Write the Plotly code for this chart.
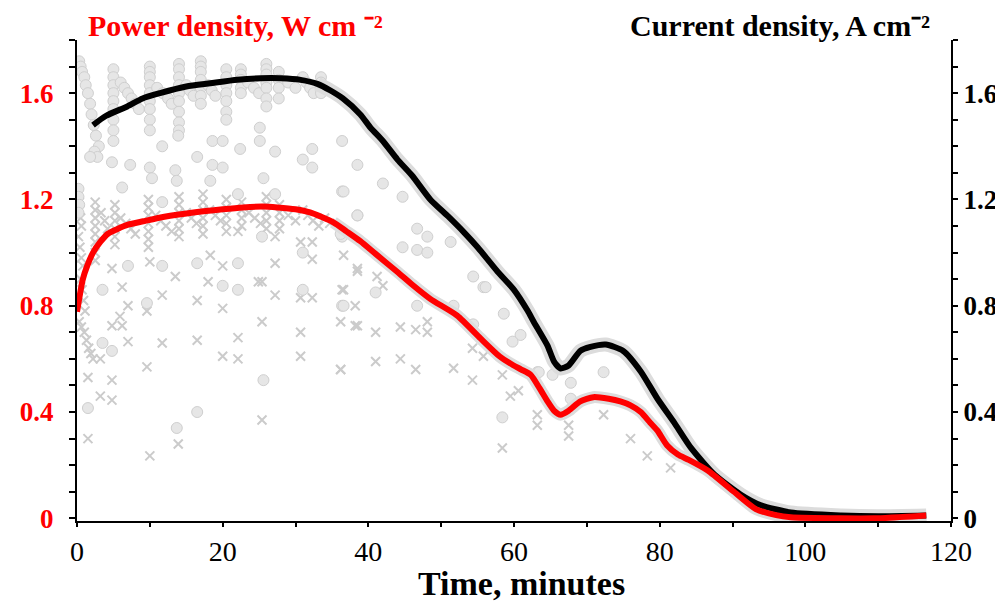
import plotly.graph_objects as go

# ---- smoothed curves ----
cur_line_t = [2.2, 4, 6.9, 9, 11.4, 15, 18.3, 22, 25.2, 28, 30.7, 33, 34.8, 36.5, 38.9, 40.3, 42, 44, 46,
              48.5, 51, 53.1, 55, 57.7, 60, 61.9, 62.7, 64.6, 65.5, 66.4, 67.5, 69.1, 70.5, 72.6, 75, 77.4,
              79.7, 82, 84.3, 87.5, 91.1, 93.9, 98, 104.9, 110, 116.6]
cur_line_j = [1.48, 1.515, 1.55, 1.58, 1.60, 1.625, 1.637, 1.65, 1.656, 1.656, 1.65, 1.635, 1.61, 1.58, 1.52,
              1.47, 1.42, 1.35, 1.29, 1.20, 1.135, 1.077, 1.02, 0.93, 0.86, 0.78, 0.74, 0.65, 0.59, 0.564,
              0.575, 0.63, 0.645, 0.654, 0.63, 0.553, 0.45, 0.36, 0.265, 0.165, 0.09, 0.049, 0.022, 0.011,
              0.008, 0.011]

pow_line_t = [0, 0.8, 1.4, 2.2, 3.2, 4.2, 5.5, 7, 9.1, 12, 16, 20, 22.8, 25.5, 27.5, 30, 32, 35.2, 37, 38.9,
              41, 44, 46, 48.5, 52.2, 55.4, 58, 59.9, 61, 62.3, 63.5, 64.6, 65.5, 66.4, 67.5, 69.1, 70.9, 73,
              74.6, 76, 77.4, 78.7, 79.7, 81, 82.5, 84, 86.6, 90.2, 93.2, 96, 98, 104.9, 109.4, 116.6]
pow_line_p = [0.777, 0.90, 0.95, 1.00, 1.04, 1.07, 1.088, 1.105, 1.118, 1.135, 1.151, 1.163, 1.17, 1.173,
              1.17, 1.163, 1.151, 1.114, 1.08, 1.043, 0.995, 0.927, 0.88, 0.826, 0.763, 0.677, 0.61, 0.576,
              0.56, 0.54, 0.49, 0.44, 0.405, 0.39, 0.405, 0.44, 0.456, 0.45, 0.44, 0.425, 0.40, 0.36, 0.33,
              0.275, 0.24, 0.22, 0.18, 0.10, 0.035, 0.012, 0.004, 0.0, 0.0, 0.011]

# ---- measured current density points (circles) ----
cur_pts_t = [
    0.3, 0.5, 0.7, 1.0, 1.2, 1.5, 1.8, 2.0, 2.3, 2.6, 3.0, 2.4, 2.8,
    5, 5, 5, 5, 5, 5, 5, 5, 5,
    6, 6.5, 7, 7.5, 8, 8.5,
    10, 10, 10, 10, 10, 10, 10, 10, 10,
    11, 11.8, 12.5, 13,
    14, 14, 14, 14, 14, 14, 14, 14, 14,
    15, 15.5, 16,
    17, 17, 17, 17, 17, 17, 17,
    18, 18.5, 19,
    20.5, 20.5, 20.5, 20.5, 20.5, 20.5, 20.5,
    22.5, 22.5, 22.5, 22.5, 22.5,
    23.5, 24.3, 25,
    26, 26, 26, 26, 26, 26, 26,
    27.7, 27.7, 27.7, 27.7,
    29, 30, 31, 31.5, 32, 32.5,
    33.5, 33.5, 33.5, 33.5,
    1.8, 4.8, 7.3, 10, 10.3, 11.7, 13.5, 13.7, 13.9, 16.5, 18.6, 18.3, 18.6, 20, 20, 22.4, 25.1,
    25.6, 27.2, 31, 32.3, 32.3, 36.4, 38.5, 6.2, 27.2, 36.4, 22.1, 11.7, 25.1,
    1.5, 4.8, 3.5, 16.5, 25.6, 13.7,
    3.5, 7, 9.6, 11.7, 16.5, 20, 22.1, 22.1, 25.4, 31, 31, 36.4, 36.4, 38.5,
    0.2, 0.2, 0.3, 0.2,
    42, 44.7, 38.5, 46.7, 44.7, 46.7, 48.1, 48.1, 51.3, 54.4, 55.8, 58.6, 60.9, 59.8, 41, 46.7,
    36.6, 51.7, 54.4, 63.2, 65.3, 67.8, 67.8, 58.4, 36.6, 36.2, 56.1, 72.3, 63.4,
]
cur_pts_j = [
    1.72, 1.70, 1.68, 1.66, 1.63, 1.60, 1.56, 1.52, 1.48, 1.44, 1.40, 1.38, 1.36,
    1.69, 1.66, 1.63, 1.60, 1.57, 1.54, 1.50, 1.46, 1.42,
    1.64, 1.62, 1.60, 1.58, 1.56, 1.54,
    1.70, 1.68, 1.66, 1.63, 1.60, 1.57, 1.54, 1.50, 1.46,
    1.62, 1.60, 1.58, 1.56,
    1.71, 1.69, 1.66, 1.63, 1.60, 1.57, 1.53, 1.49, 1.46,
    1.63, 1.61, 1.59,
    1.72, 1.70, 1.68, 1.65, 1.62, 1.59, 1.56,
    1.63, 1.61, 1.59,
    1.69, 1.66, 1.63, 1.60, 1.57, 1.53, 1.50,
    1.69, 1.67, 1.65, 1.62, 1.60,
    1.64, 1.62, 1.60,
    1.71, 1.69, 1.67, 1.64, 1.62, 1.58, 1.55,
    1.68, 1.65, 1.62, 1.58,
    1.64, 1.62, 1.66, 1.64, 1.62, 1.60,
    1.66, 1.64, 1.62, 1.60,
    1.36, 1.34, 1.33, 1.32, 1.28, 1.40, 1.31, 1.27, 1.44, 1.36, 1.33, 1.27, 1.42, 1.42, 1.32, 1.39, 1.42,
    1.28, 1.38, 1.35, 1.39, 1.32, 1.42, 1.33, 1.245, 1.22, 1.23, 1.22, 1.19, 1.47,
    0.415, 0.63, 0.66, 0.40, 0.52, 0.34,
    0.86, 0.95, 0.81, 0.95, 0.96, 0.875, 0.96, 0.86, 1.06, 1.0, 0.86, 0.80, 1.06, 1.14,
    1.24, 1.21, 1.18, 1.15,
    1.26, 1.21, 1.14, 1.09, 1.02, 1.01, 1.06, 1.0, 1.04, 0.91, 0.87, 0.77, 0.69, 0.665, 0.85, 0.80,
    0.80, 0.80, 0.73, 0.55, 0.54, 0.51, 0.45, 0.38, 1.23, 1.07, 0.87, 0.55, 0.55,
]

# ---- measured power density points (crosses) ----
pow_pts_t = [
    0.2, 0.3, 0.4, 0.5, 0.6, 0.2, 0.4, 0.6, 0.8, 0.5, 0.7, 0.9, 1.1, 0.3, 0.6, 1.0, 1.3, 1.6, 1.9, 2.2,
    2.5, 2.5, 2.5, 2.5, 2.5, 2.5, 2.5, 2.5,
    3.3, 3.8, 4.2,
    5.2, 5.2, 5.2, 5.2, 5.2, 5.2,
    6, 6.7, 7.4, 8,
    9.8, 9.8, 9.8, 9.8, 9.8, 9.8, 9.8,
    10.8, 11.5, 12.2, 13,
    14, 14, 14, 14, 14, 14,
    15, 15.7, 16.4,
    17.3, 17.3, 17.3, 17.3, 17.3, 17.3,
    18.2, 19, 19.7,
    20.5, 20.5, 20.5, 20.5, 20.5,
    22.6, 22.6, 22.6, 22.6,
    23.6, 24.4, 25.2,
    26, 26, 26, 26, 26,
    27.8, 27.8, 27.8, 27.8,
    29, 30, 31, 31.7, 32.4, 33.2, 34, 34.7,
    1.5, 3.2, 4.8, 4.8, 3.2, 7, 4.8, 6.2, 5.9, 9.6, 9.6, 11.7, 11.7, 13.5, 16.5, 16.5, 20, 20, 22.1,
    22.1, 25.4, 25.4, 25.4, 27.2, 30.7, 30.7, 30.7, 32.3, 36.2, 36.2, 38.5, 38.5, 36.4, 6.2, 7, 4.8,
    10, 18, 18.3, 20, 22.1, 24.9, 27.2, 27.2, 30.7, 32.3, 32.3,
    10, 13.9, 1.5,
    36.6, 38.5, 41.2, 42, 36.6, 38.2, 38.2, 41, 44.4, 46.5, 48.1, 48.1, 41, 44.4, 46.5, 51.7, 54.3,
    54.3, 55.8, 58.4, 59.5, 60.6, 63.2, 63.2, 67.5, 67.5, 58.4, 36.2, 72.3, 76, 78.3, 81.5,
]
pow_pts_p = [
    1.22, 1.19, 1.16, 1.13, 1.10, 1.06, 1.02, 0.98, 0.95, 0.90, 0.86, 0.82, 0.78, 0.74, 0.72, 0.70, 0.67,
    0.64, 0.62, 0.60,
    1.19, 1.16, 1.13, 1.10, 1.07, 1.04, 1.00, 0.97,
    1.15, 1.12, 1.09,
    1.18, 1.15, 1.12, 1.09, 1.06, 1.03,
    1.13, 1.11, 1.09, 1.07,
    1.20, 1.17, 1.14, 1.11, 1.08, 1.05, 1.02,
    1.14, 1.12, 1.10, 1.08,
    1.21, 1.18, 1.15, 1.12, 1.09, 1.06,
    1.15, 1.13, 1.11,
    1.22, 1.19, 1.16, 1.13, 1.10, 1.07,
    1.16, 1.14, 1.12,
    1.20, 1.17, 1.14, 1.11, 1.08,
    1.19, 1.16, 1.13, 1.10,
    1.15, 1.13, 1.11,
    1.21, 1.18, 1.15, 1.12, 1.09,
    1.18, 1.15, 1.12, 1.09,
    1.14, 1.12, 1.16, 1.14, 1.12, 1.10, 1.13, 1.11,
    0.53, 0.46, 0.445, 0.52, 0.60, 0.665, 0.725, 0.725, 0.76, 0.57, 0.78, 0.66, 0.84, 0.91, 0.82, 0.67,
    0.79, 0.61, 0.68, 0.60, 0.74, 0.37, 0.89, 0.84, 0.70, 0.61, 0.83, 0.83, 0.74, 0.56, 0.725, 0.93,
    0.86, 0.87, 0.80, 0.94,
    0.965, 0.89, 0.99, 0.95, 1.08, 0.89, 0.96, 1.06, 1.04, 0.975, 1.04,
    0.235, 0.28, 0.30,
    0.99, 0.94, 0.91, 0.875, 0.86, 0.80, 0.725, 0.70, 0.72, 0.71, 0.74, 0.70, 0.59, 0.60, 0.56, 0.565,
    0.52, 0.64, 0.61, 0.54, 0.46, 0.48, 0.39, 0.35, 0.35, 0.31, 0.265, 0.56, 0.39, 0.30, 0.235, 0.19,
]

SERIF = "Liberation Serif, Times New Roman, serif"
HALO = "#dcdcdc"
PT_FILL = "#e6e6e6"
PT_EDGE = "#cfcfcf"
YMIN, YMAX = -0.01, 1.8

fig = go.Figure()

# all marks on the left axis (both axes share the same 0-1.8 scale) so draw order is kept
fig.add_trace(go.Scatter(
    x=pow_pts_t, y=pow_pts_p, mode="markers", showlegend=False,
    marker=dict(symbol="x-thin", size=9, line=dict(width=2, color="#cbcbcb"), color="#cbcbcb")))
fig.add_trace(go.Scatter(
    x=cur_pts_t, y=cur_pts_j, mode="markers", showlegend=False,
    marker=dict(symbol="circle", size=11, color=PT_FILL, line=dict(width=1, color=PT_EDGE))))

# dense bands of measured points hugging the fitted curves (t >= 33 min)
ci = [i for i, t in enumerate(cur_line_t) if t >= 33]
pi = [i for i, t in enumerate(pow_line_t) if t >= 33]
fig.add_trace(go.Scatter(
    x=[cur_line_t[i] for i in ci], y=[cur_line_j[i] for i in ci], mode="lines",
    showlegend=False, line=dict(color=HALO, width=14, shape="spline", smoothing=0.6)))
fig.add_trace(go.Scatter(
    x=[pow_line_t[i] for i in pi], y=[pow_line_p[i] for i in pi], mode="lines",
    showlegend=False, line=dict(color=HALO, width=12, shape="spline", smoothing=0.6)))

fig.add_trace(go.Scatter(
    x=cur_line_t, y=cur_line_j, mode="lines", name="Current density",
    showlegend=False, line=dict(color="black", width=6, shape="spline", smoothing=0.6)))
fig.add_trace(go.Scatter(
    x=pow_line_t, y=pow_line_p, mode="lines", name="Power density",
    showlegend=False, line=dict(color="#ff0000", width=6, shape="spline", smoothing=0.6)))

TICKV = [0, 0.4, 0.8, 1.2, 1.6]
TICKT = ["0", "0.4", "0.8", "1.2", "1.6"]

PLOT_H = 481
TITLE_Y = 1 + 14 / PLOT_H   # title centres about 14 px above the plot top

# the page body adds an 8 px offset, so the figure is 8 px smaller than the window
fig.update_layout(
    width=995, height=595,
    margin=dict(l=69, r=52, t=32, b=82, autoexpand=False),
    paper_bgcolor="white", plot_bgcolor="white",
    font=dict(family=SERIF, color="black"),
    xaxis=dict(
        range=[0, 120], tickvals=[0, 20, 40, 60, 80, 100, 120], automargin=False,
        showline=True, linecolor="black", linewidth=2, mirror=False,
        ticks="outside", ticklen=4, tickwidth=2, tickcolor="black",
        minor=dict(dtick=10, ticks="outside", ticklen=4, tickwidth=2, tickcolor="black"),
        showgrid=False, zeroline=False,
        tickfont=dict(family=SERIF, size=28, color="black"),
        ticklabelstandoff=0,
    ),
    yaxis=dict(
        range=[YMIN, YMAX], tickvals=TICKV, ticktext=TICKT, automargin=False,
        showline=True, linecolor="black", linewidth=2,
        ticks="outside", ticklen=6, tickwidth=2, tickcolor="black",
        minor=dict(dtick=0.1, tick0=0, ticks="outside", ticklen=6, tickwidth=2, tickcolor="black"),
        showgrid=False, zeroline=False,
        tickfont=dict(family=SERIF, size=27, color="#ff0000", weight="bold"),
        ticklabelstandoff=10,
    ),
    yaxis2=dict(
        range=[YMIN, YMAX], tickvals=TICKV, ticktext=TICKT, automargin=False,
        overlaying="y", side="right", anchor="x",
        showline=True, linecolor="black", linewidth=2,
        ticks="outside", ticklen=5, tickwidth=2, tickcolor="black",
        minor=dict(dtick=0.1, tick0=0, ticks="outside", ticklen=5, tickwidth=2, tickcolor="black"),
        showgrid=False, zeroline=False,
        tickfont=dict(family=SERIF, size=27, color="black", weight="bold"),
        ticklabelstandoff=0,
    ),
    annotations=[
        dict(text="<b>Power density, W cm \u207b\u00b2</b>", xref="paper", yref="paper",
             x=(86 - 77) / 874, y=TITLE_Y, xanchor="left", yanchor="middle", showarrow=False,
             font=dict(family=SERIF, size=30, color="#ff0000")),
        dict(text="<b>Current density, A cm\u207b\u00b2</b>", xref="paper", yref="paper",
             x=(932 - 77) / 874, y=TITLE_Y, xanchor="right", yanchor="middle", showarrow=False,
             font=dict(family=SERIF, size=30, color="black")),
        dict(text="<b>Time, minutes</b>", xref="paper", yref="paper",
             x=(521 - 77) / 874, y=-(583 - 521) / PLOT_H, xanchor="center", yanchor="middle",
             showarrow=False, font=dict(family=SERIF, size=34, color="black")),
    ],
)

# keep the right-hand axis drawn (transparent anchor trace on y2)
fig.add_trace(go.Scatter(x=[0, 120], y=[0, 0], yaxis="y2", mode="lines", showlegend=False,
                         hoverinfo="skip", line=dict(width=0, color="rgba(0,0,0,0)")))

fig.write_html("out.html")
